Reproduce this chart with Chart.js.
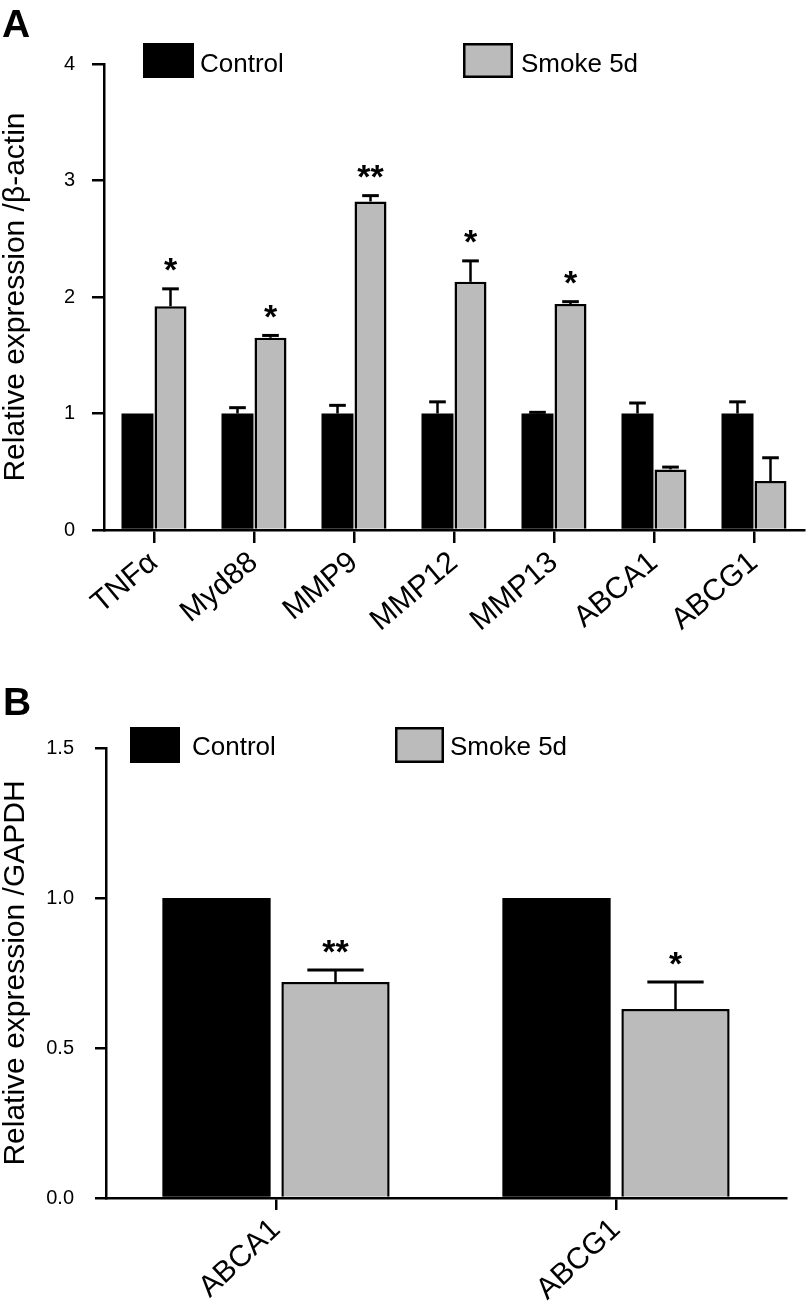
<!DOCTYPE html>
<html>
<head>
<meta charset="utf-8">
<script src="https://cdn.jsdelivr.net/npm/chart.js@4/dist/chart.umd.min.js"></script>
<style>
  body { margin: 0; background: #fff; }
  #wrapA { position: absolute; left: 0; top: 0; }
  #wrapB { position: absolute; left: 0; top: 640px; }
</style>
</head>
<body>
<div id="wrapA"><canvas id="chartA" width="806" height="640"></canvas></div>
<div id="wrapB"><canvas id="chartB" width="806" height="661"></canvas></div>
<script>
// panel A - mRNA, relative to beta-actin
var genesA = ["TNFα", "Myd88", "MMP9", "MMP12", "MMP13", "ABCA1", "ABCG1"];
var controlA = [1, 1, 1, 1, 1, 1, 1];
var controlErrA = [0, 0.05, 0.07, 0.10, 0.01, 0.09, 0.10];
var smokeA = [1.92, 1.65, 2.82, 2.13, 1.94, 0.52, 0.42];
var smokeErrA = [0.15, 0.02, 0.05, 0.18, 0.02, 0.02, 0.20];
var starsA = ["*", "*", "**", "*", "*", "", ""];
var ticksA = [0, 1, 2, 3, 4];

// panel B - relative to GAPDH
var genesB = ["ABCA1", "ABCG1"];
var controlB = [1, 1];
var controlErrB = [0, 0];
var smokeB = [0.72, 0.63];
var smokeErrB = [0.04, 0.09];
var starsB = ["**", "*"];
var ticksB = [0, 0.5, 1, 1.5];

var FONT = "'Liberation Sans', Arial, sans-serif";
Chart.defaults.font.family = FONT;
Chart.defaults.color = "#000";

// error bars, asterisks, legend boxes and the panel letter
var marks = {
  id: "marks",
  afterDatasetsDraw: function(chart) {
    var ctx = chart.ctx;
    var y = chart.scales.y;
    ctx.save();
    ctx.strokeStyle = "#000";
    ctx.fillStyle = "#000";
    chart.data.datasets.forEach(function(ds, d) {
      var meta = chart.getDatasetMeta(d);
      meta.data.forEach(function(bar, i) {
        var err = ds.errors[i];
        var top = y.getPixelForValue(ds.data[i] + err);
        if (err) {
          var half = bar.width * 0.26;
          ctx.lineWidth = 2.5;
          ctx.beginPath();
          ctx.moveTo(bar.x, bar.y);
          ctx.lineTo(bar.x, top);
          ctx.stroke();
          ctx.lineWidth = 3;
          ctx.beginPath();
          ctx.moveTo(bar.x - half, top);
          ctx.lineTo(bar.x + half, top);
          ctx.stroke();
        }
        var s = ds.stars ? ds.stars[i] : "";
        if (s) {
          ctx.font = "bold 34px " + FONT;
          ctx.textAlign = "center";
          ctx.textBaseline = "alphabetic";
          var m = ctx.measureText(s);
          var cy = top - 24;
          ctx.fillText(s, bar.x, cy + (m.actualBoundingBoxAscent - m.actualBoundingBoxDescent) / 2);
        }
      });
    });
    ctx.restore();
  },
  afterDraw: function(chart, args, opts) {
    var ctx = chart.ctx;
    ctx.save();
    ctx.textAlign = "left";
    ctx.textBaseline = "alphabetic";
    opts.legend.forEach(function(it, i) {
      var ds = chart.data.datasets[i];
      ctx.fillStyle = ds.backgroundColor;
      ctx.fillRect(it.x, it.y, it.w, it.h);
      if (ds.borderWidth) {
        ctx.strokeStyle = ds.borderColor;
        ctx.lineWidth = ds.borderWidth;
        ctx.strokeRect(it.x + 1.25, it.y + 1.25, it.w - 2.5, it.h - 2.5);
      }
      ctx.fillStyle = "#000";
      ctx.font = "26px " + FONT;
      ctx.fillText(ds.label, it.tx, it.ty);
    });
    ctx.font = "bold 39px " + FONT;
    ctx.fillText(opts.letter.text, opts.letter.x, opts.letter.y);
    ctx.restore();
  }
};

function makeOptions(p) {
  return {
    responsive: false,
    animation: false,
    layout: { padding: p.padding },
    plugins: {
      legend: { display: false },
      tooltip: { enabled: false },
      marks: { legend: p.legend, letter: p.letter }
    },
    scales: {
      x: {
        afterFit: function(s) { s.height = p.xHeight; },
        border: { display: true, color: "#000", width: 2.5 },
        grid: { offset: false, drawOnChartArea: false, tickLength: p.xTick, color: "#000", lineWidth: 2.5 },
        ticks: { minRotation: p.rot, maxRotation: p.rot, autoSkip: false, padding: 2, font: { size: 30 }, color: "#000" }
      },
      y: {
        min: 0,
        max: p.max,
        afterBuildTicks: function(s) { s.ticks = p.ticks.map(function(v) { return { value: v }; }); },
        afterFit: function(s) { s.width = p.yWidth; },
        border: { display: true, color: "#000", width: 2.5 },
        grid: { drawOnChartArea: false, tickLength: p.yTick, color: "#000", lineWidth: 2.5 },
        ticks: { padding: p.yPad, font: { size: 20 }, color: "#000", callback: p.fmt },
        title: {
          display: true,
          text: p.title,
          color: "#000",
          font: { size: 30, lineHeight: 1 },
          padding: { top: 1, bottom: 0 }
        }
      }
    }
  };
}

new Chart("chartA", {
  type: "bar",
  data: {
    labels: genesA,
    datasets: [
      { label: "Control", data: controlA, errors: controlErrA, backgroundColor: "#000", borderWidth: 0,
        barPercentage: 0.97, categoryPercentage: 0.66 },
      { label: "Smoke 5d", data: smokeA, errors: smokeErrA, stars: starsA, backgroundColor: "#bbbbbb",
        borderColor: "#000", borderWidth: 2.5, barPercentage: 0.97, categoryPercentage: 0.66 }
    ]
  },
  options: makeOptions({
    padding: { top: 64, right: 2, bottom: 0, left: 0 },
    xHeight: 110, yWidth: 104, xTick: 13, yTick: 12, yPad: 17, rot: 40,
    max: 4, ticks: ticksA,
    fmt: function(v) { return v; },
    title: "Relative expression /β-actin",
    legend: [
      { x: 143, y: 43, w: 51, h: 35, tx: 200, ty: 72 },
      { x: 463, y: 43, w: 50, h: 35, tx: 521, ty: 72 }
    ],
    letter: { text: "A", x: 2, y: 37 }
  }),
  plugins: [marks]
});

new Chart("chartB", {
  type: "bar",
  data: {
    labels: genesB,
    datasets: [
      { label: "Control", data: controlB, errors: controlErrB, backgroundColor: "#000", borderWidth: 0,
        barPercentage: 0.91, categoryPercentage: 0.70 },
      { label: "Smoke 5d", data: smokeB, errors: smokeErrB, stars: starsB, backgroundColor: "#bbbbbb",
        borderColor: "#000", borderWidth: 2.5, barPercentage: 0.91, categoryPercentage: 0.70 }
    ]
  },
  options: makeOptions({
    padding: { top: 108, right: 20, bottom: 0, left: 0 },
    xHeight: 103, yWidth: 106, xTick: 12, yTick: 11, yPad: 21, rot: 43,
    max: 1.5, ticks: ticksB,
    fmt: function(v) { return Number(v).toFixed(1); },
    title: "Relative expression /GAPDH",
    legend: [
      { x: 130, y: 87, w: 50, h: 36, tx: 192, ty: 115 },
      { x: 395, y: 87, w: 49, h: 36, tx: 450, ty: 115 }
    ],
    letter: { text: "B", x: 3, y: 75 }
  }),
  plugins: [marks]
});
</script>
</body>
</html>
